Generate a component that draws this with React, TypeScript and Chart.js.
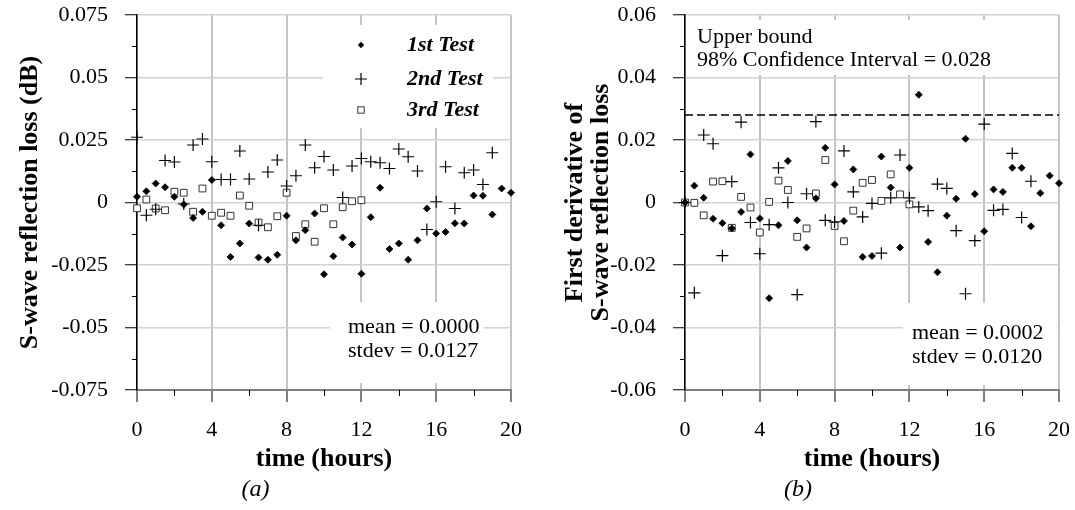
import React, { useEffect, useRef } from 'react';
import { Chart, registerables } from 'chart.js';

Chart.register(...registerables);
Chart.defaults.font.family = '"Liberation Serif", "Times New Roman", serif';
Chart.defaults.color = '#000';

// ---------- data ----------
const hours = [0, 0.5, 1, 1.5, 2, 2.5, 3, 3.5, 4, 4.5, 5, 5.5, 6, 6.5, 7, 7.5, 8, 8.5, 9, 9.5, 10,
  10.5, 11, 11.5, 12, 12.5, 13, 13.5, 14, 14.5, 15, 15.5, 16, 16.5, 17, 17.5, 18, 18.5, 19, 19.5, 20];

// (a) S-wave reflection loss (dB)
const lossTest1 = [0.0023, 0.0045, 0.0076, 0.0061, 0.0023, -0.0008, -0.0062, -0.0037, 0.0090, -0.0091,
  -0.0218, -0.0164, -0.0084, -0.0220, -0.0229, -0.0209, -0.0053, -0.0151, -0.0111, -0.0044,
  -0.0287, -0.0215, -0.0140, -0.0168, -0.0285, -0.0059, 0.0059, -0.0186, -0.0164, -0.0229,
  -0.0151, -0.0024, -0.0124, -0.0118, -0.0083, -0.0084, 0.0028, 0.0027, -0.0048, 0.0056, 0.0039];
const lossTest2 = [0.0261, -0.0051, -0.0027, 0.0168, 0.0162, -0.0006, 0.0230, 0.0254, 0.0163, 0.0092,
  0.0092, 0.0206, 0.0094, -0.0091, 0.0122, 0.0170, 0.0066, 0.0107, 0.0230, 0.0139,
  0.0184, 0.0130, 0.0020, 0.0146, 0.0176, 0.0163, 0.0159, 0.0136, 0.0214, 0.0183,
  0.0126, -0.0108, 0.0003, 0.0143, -0.0024, 0.0119, 0.0130, 0.0072, 0.0199];
const lossTest3 = [-0.0023, 0.0012, -0.0024, -0.0031, 0.0043, 0.0039, -0.0037, 0.0056, -0.0053, -0.0041,
  -0.0053, 0.0028, -0.0013, -0.0080, -0.0099, -0.0055, 0.0039, -0.0134, -0.0087, -0.0157,
  -0.0023, -0.0087, -0.0019, 0.0005, 0.0009];

// (b) first derivative of S-wave reflection loss
const derivTest1 = [0, 0.0054, 0.0015, -0.0052, -0.0066, -0.0083, -0.0030, 0.0154, -0.0051, -0.0306,
  -0.0073, 0.0133, -0.0057, -0.0144, 0.0013, 0.0175, 0.0058, -0.0059, 0.0106, -0.0174,
  -0.0171, 0.0147, 0.0048, -0.0144, 0.0111, 0.0345, -0.0126, -0.0223, -0.0042, 0.0012,
  0.0204, 0.0027, -0.0092, 0.0042, 0.0034, 0.0111, 0.0111, -0.0076, 0.0030, 0.0086, 0.0062];
const derivTest2 = [0, -0.0289, 0.0216, 0.0188, -0.0170, 0.0067, 0.0257, -0.0064, -0.0164, -0.0071,
  0.0111, 0.0000, -0.0295, 0.0028, 0.0259, -0.0057, -0.0062, 0.0165, 0.0034, -0.0046,
  -0.0003, -0.0162, 0.0015, 0.0152, 0.0015, -0.0014, -0.0026, 0.0059, 0.0045, -0.0090,
  -0.0292, -0.0122, 0.0251, -0.0025, -0.0022, 0.0157, -0.0048, 0.0068];
const derivTest3 = [0, -0.0001, -0.0041, 0.0067, 0.0068, -0.0081, 0.0018, -0.0016, -0.0096, 0.0002,
  0.0070, 0.0040, -0.0110, -0.0083, 0.0029, 0.0136, -0.0075, -0.0124, -0.0026, 0.0063,
  0.0072, 0.0005, 0.0090, 0.0026, -0.0006];

const upperBound = 0.028;

const xTickLabels = ['0', '4', '8', '12', '16', '20'];
const lossTickLabels = ['-0.075', '-0.05', '-0.025', '0', '0.025', '0.05', '0.075'];
const derivTickLabels = ['-0.06', '-0.04', '-0.02', '0', '0.02', '0.04', '0.06'];
const xMinorTicks = [2, 6, 10, 14, 18];
const lossMinorTicks = [-0.0625, -0.0375, -0.0125, 0.0125, 0.0375, 0.0625];
const derivMinorTicks = [-0.05, -0.03, -0.01, 0.01, 0.03, 0.05];

const legendLabels = ['1st Test', '2nd Test', '3rd Test'];
const lossStats = ['mean = 0.0000', 'stdev = 0.0127'];
const derivStats = ['mean = 0.0002', 'stdev = 0.0120'];
const boundText = ['Upper bound', '98% Confidence Interval = 0.028'];

// ---------- helpers ----------
const FONT = '"Liberation Serif", "Times New Roman", serif';
const toPts = (vals: number[]) => vals.map((v, i) => ({ x: hours[i], y: v }));

function makeDatasets(a: number[], b: number[], c: number[]) {
  return [
    {
      label: legendLabels[0], data: toPts(a), pointStyle: 'rectRot', pointRadius: 3.5,
      backgroundColor: '#000', borderColor: '#000', borderWidth: 0.8, showLine: false, clip: false,
    },
    {
      label: legendLabels[1], data: toPts(b), pointStyle: 'cross', pointRadius: 6,
      backgroundColor: '#000', borderColor: '#000', borderWidth: 1.2, showLine: false, clip: false,
    },
    {
      label: legendLabels[2], data: toPts(c), pointStyle: 'rect', pointRadius: 4.8,
      backgroundColor: '#fff', borderColor: '#333', borderWidth: 1, showLine: false, clip: false,
    },
  ];
}

function drawSymbol(ctx: CanvasRenderingContext2D, kind: number, x: number, y: number) {
  ctx.save();
  ctx.strokeStyle = '#000';
  ctx.fillStyle = '#000';
  if (kind === 0) {
    const r = 3.2;
    ctx.beginPath();
    ctx.moveTo(x - r, y); ctx.lineTo(x, y - r); ctx.lineTo(x + r, y); ctx.lineTo(x, y + r);
    ctx.closePath(); ctx.fill();
  } else if (kind === 1) {
    const r = 6;
    ctx.lineWidth = 1.2;
    ctx.beginPath();
    ctx.moveTo(x - r, y); ctx.lineTo(x + r, y); ctx.moveTo(x, y - r); ctx.lineTo(x, y + r);
    ctx.stroke();
  } else {
    const s = 3.2;
    ctx.lineWidth = 1;
    ctx.strokeStyle = '#333';
    ctx.fillStyle = '#fff';
    ctx.fillRect(x - s, y - s, 2 * s, 2 * s);
    ctx.strokeRect(x - s, y - s, 2 * s, 2 * s);
  }
  ctx.restore();
}

const annotPlugin = {
  id: 'annot',
  beforeDatasetsDraw(chart: any, _args: any, opts: any) {
    const ctx: CanvasRenderingContext2D = chart.ctx;
    const { left, right, bottom } = chart.chartArea;
    const xs = chart.scales.x;
    const ys = chart.scales.y;
    ctx.save();
    // minor ticks
    ctx.strokeStyle = '#000';
    ctx.lineWidth = 1;
    for (const v of opts.yMinor) {
      const p = Math.round(ys.getPixelForValue(v)) + 0.5;
      ctx.beginPath(); ctx.moveTo(left - 5, p); ctx.lineTo(left, p); ctx.stroke();
    }
    for (const t of opts.xMinor) {
      const p = Math.round(xs.getPixelForValue(t)) + 0.5;
      ctx.beginPath(); ctx.moveTo(p, bottom); ctx.lineTo(p, bottom + 6); ctx.stroke();
    }
    // white boxes
    ctx.fillStyle = '#fff';
    for (const b of opts.boxes) ctx.fillRect(b.x, b.y, b.w, b.h);
    // dashed bound line
    if (opts.bound != null) {
      const p = ys.getPixelForValue(opts.bound);
      ctx.strokeStyle = '#000';
      ctx.lineWidth = 1.5;
      ctx.setLineDash([8, 4]);
      ctx.beginPath(); ctx.moveTo(left, p); ctx.lineTo(right, p); ctx.stroke();
      ctx.setLineDash([]);
    }
    // texts
    ctx.fillStyle = '#000';
    ctx.textBaseline = 'middle';
    ctx.textAlign = 'left';
    for (const t of opts.texts) {
      ctx.font = t.font;
      ctx.fillText(t.text, t.x, t.y);
    }
    // legend
    if (opts.legend) {
      const L = opts.legend;
      L.labels.forEach((lab: string, i: number) => {
        const y = L.rows[i];
        drawSymbol(ctx, i, L.symX, y);
        ctx.font = L.font;
        ctx.fillStyle = '#000';
        ctx.fillText(lab, L.textX, y);
      });
    }
    ctx.restore();
  },
};

function makeConfig(opts: {
  a: number[]; b: number[]; c: number[];
  yMin: number; yMax: number; yStep: number; yLabels: string[];
  yTitle: string | string[]; yTitleLineHeight: number; yTitlePad: number;
  yWidth: number; padRight: number; caption: string; annot: any;
}) {
  const titleH = 24 * 1.2 + 6;
  return {
    type: 'scatter',
    data: { datasets: makeDatasets(opts.a, opts.b, opts.c) },
    plugins: [annotPlugin],
    options: {
      responsive: false,
      animation: false,
      devicePixelRatio: 1,
      layout: { padding: { left: 0, top: 15, right: opts.padRight, bottom: 0 } },
      plugins: {
        legend: { display: false },
        tooltip: { enabled: false },
        title: {
          display: true, text: opts.caption, position: 'bottom', color: '#000',
          font: { family: FONT, size: 24, style: 'italic', weight: 'normal', lineHeight: 1.2 },
          padding: { top: 0, bottom: 6 },
        },
        annot: opts.annot,
      },
      scales: {
        x: {
          type: 'linear', min: 0, max: 20,
          afterFit: (s: any) => {
            s.height = 510 - 390 - titleH;
            s.paddingLeft = 0; s.paddingRight = 0;
          },
          ticks: {
            stepSize: 4, padding: 15, color: '#000', maxRotation: 0,
            font: { family: FONT, size: 22 },
            callback: (_v: any, i: number) => xTickLabels[i],
          },
          grid: { color: '#c4c4c4', lineWidth: 2, tickLength: 12, tickColor: '#000', tickWidth: 1 },
          border: { color: '#808080', width: 2 },
          title: {
            display: true, text: 'time (hours)', color: '#000',
            font: { family: FONT, size: 26, weight: 'bold', lineHeight: 1.2 },
            padding: { top: 0, bottom: 0 },
          },
        },
        y: {
          type: 'linear', min: opts.yMin, max: opts.yMax,
          afterFit: (s: any) => {
            s.width = opts.yWidth;
            s.paddingTop = 0; s.paddingBottom = 0;
          },
          ticks: {
            stepSize: opts.yStep, padding: 17, color: '#000',
            font: { family: FONT, size: 22 },
            callback: (_v: any, i: number) => opts.yLabels[i],
          },
          grid: { color: '#d2d2d2', lineWidth: 1.5, tickLength: 12, tickColor: '#000', tickWidth: 1 },
          border: { color: '#000', width: 1.5 },
          title: {
            display: true, text: opts.yTitle, color: '#000',
            font: { family: FONT, size: 26, weight: 'bold', lineHeight: opts.yTitleLineHeight },
            padding: { top: opts.yTitlePad, bottom: 0 },
          },
        },
      },
    },
  };
}

const leftConfig = () => makeConfig({
  a: lossTest1, b: lossTest2, c: lossTest3,
  yMin: -0.075, yMax: 0.075, yStep: 0.025, yLabels: lossTickLabels,
  yTitle: 'S-wave reflection loss (dB)', yTitleLineHeight: 1.2, yTitlePad: 14.4,
  yWidth: 137, padRight: 26, caption: '(a)',
  annot: {
    yMinor: lossMinorTicks, xMinor: xMinorTicks, bound: null,
    boxes: [{ x: 323, y: 25, w: 170, h: 103 }, { x: 330, y: 302, w: 154, h: 81 }],
    texts: [
      { text: lossStats[0], x: 348, y: 327, font: `22px ${FONT}` },
      { text: lossStats[1], x: 348, y: 351, font: `22px ${FONT}` },
    ],
    legend: { labels: legendLabels, rows: [45, 79, 110], symX: 361, textX: 407, font: `italic bold 22px ${FONT}` },
  },
});

const rightConfig = () => makeConfig({
  a: derivTest1, b: derivTest2, c: derivTest3,
  yMin: -0.06, yMax: 0.06, yStep: 0.02, yLabels: derivTickLabels,
  yTitle: ['First derivative of', 'S-wave reflection loss'], yTitleLineHeight: 1.0, yTitlePad: 25,
  yWidth: 148, padRight: 16, caption: '(b)',
  annot: {
    yMinor: derivMinorTicks, xMinor: xMinorTicks, bound: upperBound,
    boxes: [{ x: 149, y: 20, w: 309, h: 55 }, { x: 366, y: 303, w: 154, h: 82 }],
    texts: [
      { text: boundText[0], x: 160, y: 37, font: `22px ${FONT}` },
      { text: boundText[1], x: 160, y: 60, font: `22px ${FONT}` },
      { text: derivStats[0], x: 375, y: 333, font: `22px ${FONT}` },
      { text: derivStats[1], x: 375, y: 357, font: `22px ${FONT}` },
    ],
    legend: null,
  },
});

function ChartCanvas({ config, left, width }: { config: () => any; left: number; width: number }) {
  const ref = useRef<HTMLCanvasElement | null>(null);
  useEffect(() => {
    if (!ref.current) return;
    const chart = new Chart(ref.current, config());
    return () => chart.destroy();
  }, []);
  return (
    <canvas
      ref={ref}
      width={width}
      height={510}
      style={{ position: 'absolute', left, top: 0, width, height: 510 }}
    />
  );
}

export default function App() {
  return (
    <div style={{ position: 'absolute', left: 0, top: 0, width: 1075, height: 510, background: '#fff', overflow: 'hidden' }}>
      <ChartCanvas config={leftConfig} left={0} width={537} />
      <ChartCanvas config={rightConfig} left={537} width={538} />
    </div>
  );
}
